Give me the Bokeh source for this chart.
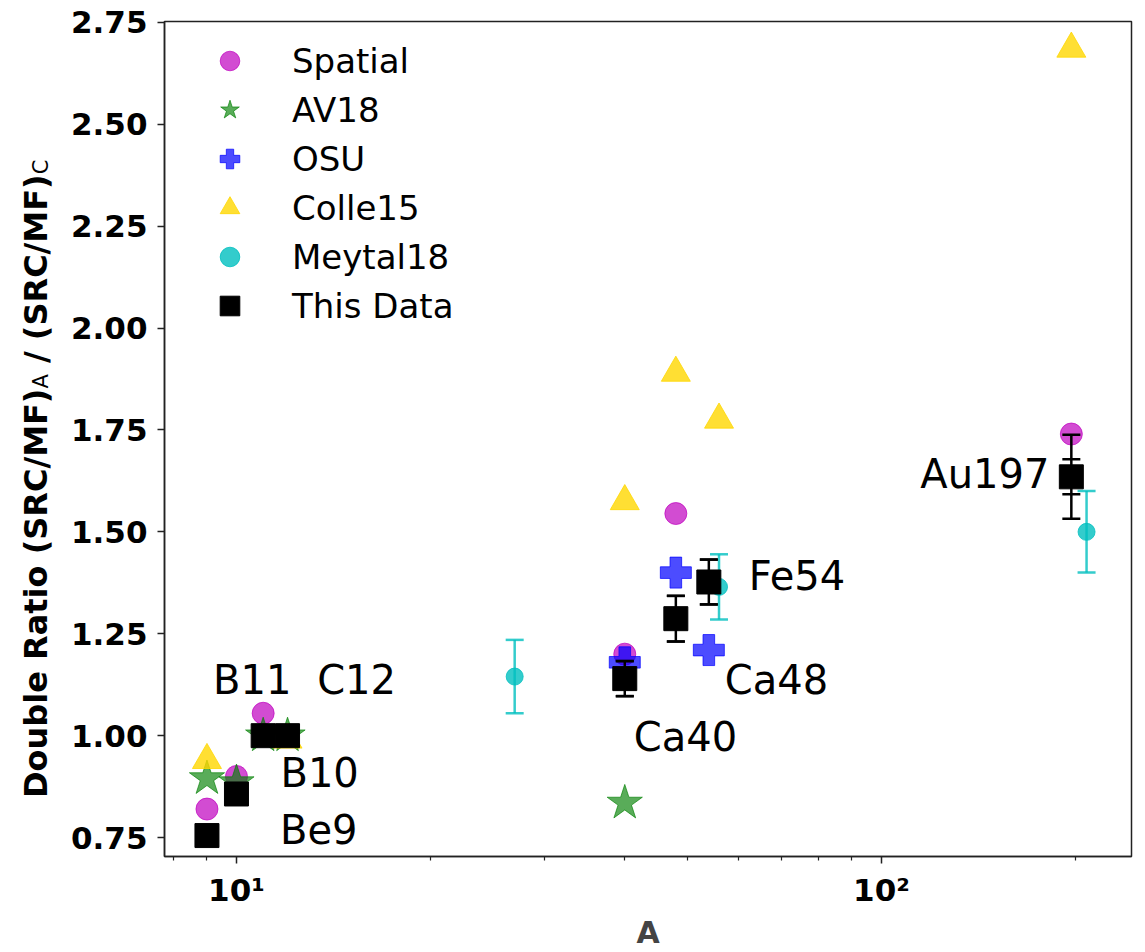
from bokeh.plotting import figure
from bokeh.layouts import row
from bokeh.models import (ColumnDataSource, Range1d, FixedTicker, CustomJSTickFormatter,
                          NumeralTickFormatter, Legend, LegendItem, Div)
from bokeh.core.properties import value
from bokeh.embed import file_html
from bokeh.resources import INLINE

# ---------------- data ----------------
spatial_A = [9, 10, 11, 12, 40, 48, 197]
spatial_r = [0.82, 0.90, 1.055, 1.00, 1.20, 1.545, 1.74]

av18_A = [9, 10, 11, 12, 40]
av18_r = [0.895, 0.885, 1.00, 1.00, 0.835]

osu_A = [40, 48, 54]
osu_r = [1.18, 1.40, 1.21]

colle_A = [9, 12, 40, 48, 56, 197]
colle_r = [0.94, 0.99, 1.575, 1.89, 1.775, 2.685]

meytal_A = [27, 56, 208]
meytal_r = [1.145, 1.365, 1.50]
meytal_err = [0.09, 0.08, 0.10]

data_names = ["Be9", "B10", "B11", "C12", "Ca40", "Ca48", "Fe54", "Au197"]
data_A = [9, 10, 11, 12, 40, 48, 54, 197]
data_r = [0.755, 0.857, 1.00, 1.00, 1.14, 1.287, 1.377, 1.635]
data_err_stat = [0.01, 0.01, 0.005, 0.005, 0.043, 0.056, 0.055, 0.043]
data_err_tot = [0.01, 0.01, 0.005, 0.005, 0.043, 0.056, 0.055, 0.103]

y_ticks = [0.75, 1.00, 1.25, 1.50, 1.75, 2.00, 2.25, 2.50, 2.75]
x_ticks = [10, 100]
x_minor = [8, 9, 20, 30, 40, 50, 60, 70, 80, 90, 200]

# label layout (pixel offsets from each nucleus' point)
lab_dx = [73, 44, -11, 69, 9, 49, 40, -22]
lab_dy = [-6, -21, -56, -56, 58, 61, -6, -3]
lab_align = ["left", "left", "center", "center", "left", "left", "left", "right"]

# ---------------- figure ----------------
W, H = 1145, 952
DIV_W = 60
FL, FR, FT, FB = 164, 1131, 21, 859
X0, X1, Y0, Y1 = 7.734, 244.2, 0.7036, 2.752

p = figure(width=W - DIV_W, height=H, x_axis_type="log",
           x_range=Range1d(X0, X1), y_range=Range1d(Y0, Y1),
           output_backend="svg", toolbar_location=None,
           min_border_left=FL - DIV_W, min_border_right=W - FR,
           min_border_top=FT, min_border_bottom=H - FB)
p.margin = (0, 0, 0, 0)
p.background_fill_color = "white"
p.border_fill_color = "white"
p.outline_line_color = "#222222"
p.outline_line_width = 1.5
p.xgrid.visible = False
p.ygrid.visible = False

# axes
p.yaxis.ticker = FixedTicker(ticks=y_ticks)
p.yaxis.formatter = NumeralTickFormatter(format="0.00")
p.yaxis.major_tick_out = 7
p.yaxis.major_tick_in = 0
p.yaxis.minor_tick_out = 0
p.yaxis.minor_tick_in = 0
p.yaxis.major_label_text_font = "DejaVu Sans"
p.yaxis.major_label_text_font_style = "bold"
p.yaxis.major_label_text_font_size = "31px"
p.yaxis.major_label_standoff = 10

p.xaxis.ticker = FixedTicker(ticks=x_ticks, minor_ticks=x_minor)
p.xaxis.formatter = CustomJSTickFormatter(code="""
const sup = {"0":"\u2070","1":"\u00b9","2":"\u00b2","3":"\u00b3","4":"\u2074",
             "5":"\u2075","6":"\u2076","7":"\u2077","8":"\u2078","9":"\u2079"};
const e = String(Math.round(Math.log10(tick)));
let s = "";
for (const c of e) { s += sup[c]; }
return "10" + s;
""")
p.xaxis.major_tick_out = 7
p.xaxis.major_tick_in = 0
p.xaxis.minor_tick_out = 4
p.xaxis.minor_tick_in = 0
p.xaxis.major_label_text_font = "DejaVu Sans"
p.xaxis.major_label_text_font_style = "bold"
p.xaxis.major_label_text_font_size = "31px"
p.xaxis.major_label_standoff = 8
p.xaxis.axis_label = "A"
p.xaxis.axis_label_text_font = "DejaVu Sans"
p.xaxis.axis_label_text_font_style = "bold"
p.xaxis.axis_label_text_font_size = "30px"
p.xaxis.axis_label_standoff = 4
for ax in (p.xaxis, p.yaxis):
    ax.axis_line_color = "#222222"
    ax.axis_line_width = 1.5
    ax.major_tick_line_color = "#222222"
    ax.major_tick_line_width = 1.5
    ax.minor_tick_line_color = "#222222"
    ax.minor_tick_line_width = 1.2
    ax.major_label_text_color = "black"

# ---------------- glyphs ----------------
MAG, GRN, BLU, GLD, CYN = "#bf00bf", "#008000", "#0000ff", "#ffd700", "#00bfbf"

r_sp = p.scatter(spatial_A, spatial_r, marker="circle", size=22,
                 fill_color=MAG, line_color=MAG, fill_alpha=0.7, line_alpha=0.7)
r_av = p.scatter(av18_A, av18_r, marker="star", size=37,
                 fill_color=GRN, line_color=GRN, fill_alpha=0.65, line_alpha=0.65)
r_osu = p.scatter(osu_A, osu_r, marker="plus", size=31,
                  fill_color=BLU, line_color=BLU, fill_alpha=0.7, line_alpha=0.7)
r_co = p.scatter(colle_A, colle_r, marker="triangle", size=29,
                 fill_color=GLD, line_color=GLD, fill_alpha=0.8, line_alpha=0.8)

# Meytal18 with error bars
m_src = ColumnDataSource(dict(x=meytal_A, y=meytal_r,
                              lo=[v - e for v, e in zip(meytal_r, meytal_err)],
                              hi=[v + e for v, e in zip(meytal_r, meytal_err)]))
p.segment(x0="x", y0="lo", x1="x", y1="hi", source=m_src, line_color=CYN,
          line_alpha=0.8, line_width=2.5)
p.scatter(x="x", y="lo", source=m_src, marker="dash", size=18, line_color=CYN,
          line_alpha=0.8, line_width=2.5)
p.scatter(x="x", y="hi", source=m_src, marker="dash", size=18, line_color=CYN,
          line_alpha=0.8, line_width=2.5)
r_me = p.scatter(x="x", y="y", source=m_src, marker="circle", size=17,
                 fill_color=CYN, line_color=CYN, fill_alpha=0.8, line_alpha=0.8)

# This Data
d_src = ColumnDataSource(dict(
    x=data_A, y=data_r, name=data_names,
    lo1=[v - e for v, e in zip(data_r, data_err_stat)],
    hi1=[v + e for v, e in zip(data_r, data_err_stat)],
    lo2=[v - e for v, e in zip(data_r, data_err_tot)],
    hi2=[v + e for v, e in zip(data_r, data_err_tot)],
    dx=lab_dx, dy=lab_dy, align=lab_align))
p.segment(x0="x", y0="lo2", x1="x", y1="hi2", source=d_src, line_color="black",
          line_width=2.5)
for col in ("lo1", "hi1", "lo2", "hi2"):
    p.scatter(x="x", y=col, source=d_src, marker="dash", size=18,
              line_color="black", line_width=2.5)
r_da = p.scatter(x="x", y="y", source=d_src, marker="square", size=24,
                 fill_color="black", line_color="black")

# nucleus labels
p.text(x="x", y="y", text="name", source=d_src, x_offset="dx", y_offset="dy",
       text_align="align", text_baseline="middle",
       text_font=value("DejaVu Sans"), text_font_size="40px", text_color="black")

# ---------------- legend ----------------
legend = Legend(items=[
    LegendItem(label="Spatial", renderers=[r_sp]),
    LegendItem(label="AV18", renderers=[r_av]),
    LegendItem(label="OSU", renderers=[r_osu]),
    LegendItem(label="Colle15", renderers=[r_co]),
    LegendItem(label="Meytal18", renderers=[r_me]),
    LegendItem(label="This Data", renderers=[r_da]),
])
legend.location = (41, 526)
legend.glyph_width = 49
legend.glyph_height = 49
legend.spacing = 0
legend.label_standoff = 38
legend.padding = 0
legend.margin = 0
legend.border_line_color = None
legend.background_fill_alpha = 0
legend.label_text_font = "DejaVu Sans"
legend.label_text_font_size = "34px"
legend.label_text_color = "black"
p.add_layout(legend)

# ---------------- y axis label with subscripts (HTML, rotated) ----------------
sub_css = "font-weight:normal;font-size:21px;line-height:1;vertical-align:-5px;"
ylabel_html = (
    '<div style="margin-left:20px;margin-top:150px;height:648px;'
    'writing-mode:vertical-rl;transform:rotate(180deg);white-space:nowrap;'
    "font-family:'DejaVu Sans';font-weight:bold;font-size:32px;line-height:32px;"
    'color:black;">'
    'Double Ratio (SRC/MF)<span style="' + sub_css + '">A</span>'
    ' / (SRC/MF)<span style="' + sub_css + '">C</span></div>'
)
ylab = Div(text=ylabel_html, width=DIV_W, height=H, margin=(0, 0, 0, 0),
           styles={"background-color": "white", "overflow": "visible"})

layout = row(ylab, p, spacing=0, margin=(0, 0, 0, 0))
open("out.html", "w").write(file_html(layout, INLINE))
